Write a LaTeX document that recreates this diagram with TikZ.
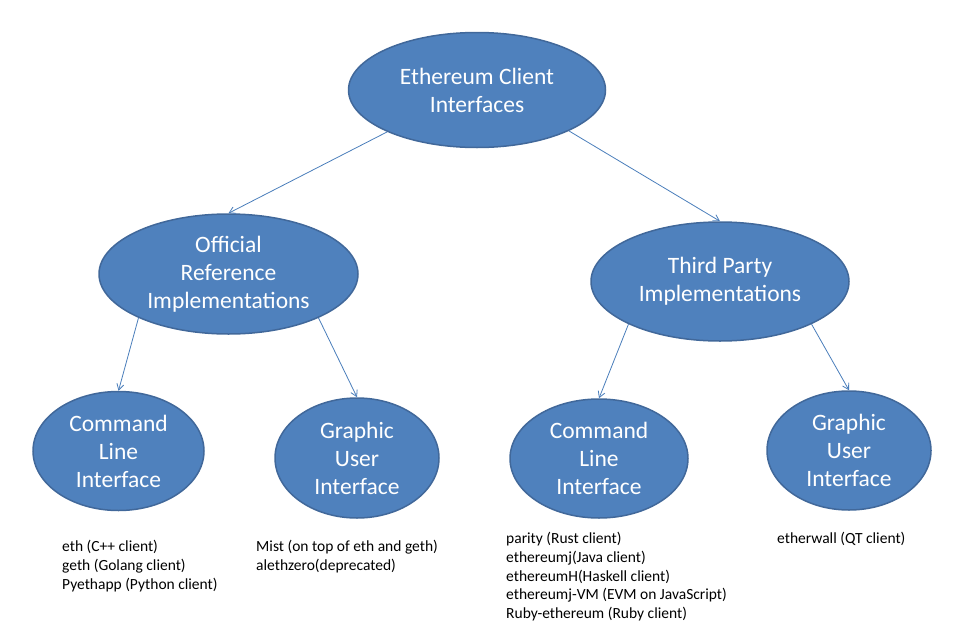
\documentclass[tikz,border=0pt]{standalone}
\usepackage{fontspec}
\setmainfont{Carlito}
\usetikzlibrary{shapes.geometric,arrows.meta}
\definecolor{ovalfill}{HTML}{4F81BD}
\definecolor{ovalline}{HTML}{41689A}
\definecolor{linkcol}{HTML}{4A7EBB}

\begin{document}
\begin{tikzpicture}[x=1pt,y=-1pt,
    oval/.style={ellipse,draw=ovalline,line width=1.5pt,fill=ovalfill,text=white,
        inner sep=0pt,align=center,font=\fontsize{23.5}{28}\selectfont},
    link/.style={draw=linkcol,line width=0.8pt,-{Straight Barb[angle=60:7pt]}},
    clients/.style={anchor=north west,inner sep=0pt,align=left,font=\fontsize{15.5}{18.8}\selectfont}]
    \useasboundingbox (0,0) rectangle (953,637);
    \node[oval,minimum width=257pt,minimum height=115pt] (root) at (477,90) {Ethereum Client\\Interfaces};
    \node[oval,minimum width=259pt,minimum height=120pt] (official) at (228.5,274) {Official\\Reference\\Implementations};
    \node[oval,minimum width=258pt,minimum height=119pt] (third) at (720,281.5) {Third Party\\Implementations};
    \node[oval,minimum width=171pt,minimum height=119pt] (cliA) at (118.5,451) {Command\\Line\\Interface};
    \node[oval,minimum width=164pt,minimum height=120pt] (guiA) at (357,458) {Graphic\\User\\Interface};
    \node[oval,minimum width=178pt,minimum height=119pt] (cliB) at (599,458.5) {Command\\Line\\Interface};
    \node[oval,minimum width=164pt,minimum height=119pt] (guiB) at (849,450.5) {Graphic\\User\\Interface};
    \draw[link] (root.205) -- (official.north);
    \draw[link] (root.336) -- (third.north);
    \draw[link] (official.206) -- (cliA.north);
    \draw[link] (official.334) -- (guiA.north);
    \draw[link] (third.205) -- (cliB.north);
    \draw[link] (third.335) -- (guiB.north);
    \node[clients] (listA) at (62,540) {eth (C++ client)\\geth (Golang client)\\Pyethapp (Python client)};
    \node[clients] (listB) at (256,540) {Mist (on top of eth and geth)\\alethzero(deprecated)};
    \node[clients] (listC) at (506,532) {parity (Rust client)\\ethereumj(Java client)\\ethereumH(Haskell client)\\ethereumj-VM (EVM on JavaScript)\\Ruby-ethereum (Ruby client)};
    \node[clients] (listD) at (777,532) {etherwall (QT client)};
\end{tikzpicture}
\end{document}
